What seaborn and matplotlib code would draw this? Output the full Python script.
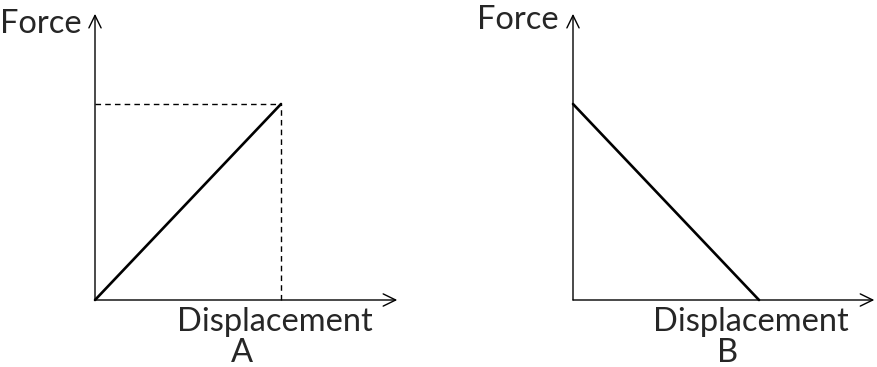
import matplotlib
matplotlib.use("Agg")
import matplotlib.pyplot as plt
import seaborn as sns
import pandas as pd

# ---- data (normalised units) ----
disp_A = [0.0, 1.0]
force_A = [0.0, 1.0]
disp_B = [0.0, 1.0]
force_B = [1.0, 0.0]
panel_labels = ["A", "B"]
x_label = "Displacement"
y_label = "Force"

sns.set_theme(style="white")
plt.rcParams['font.family'] = ['Lato', 'DejaVu Sans']

W, H = 877, 367
fig = plt.figure(figsize=(W / 100, H / 100), dpi=100)

# layout: pixel mapping per panel
SX, SY = 186.0, 196.0
XL = (-0.2, 1.8)
YL = (-0.3, 1.5)
ORIG_Y = 300


def make_axes(ox):
    left = ox + SX * XL[0]
    width = SX * (XL[1] - XL[0])
    bottom_px = ORIG_Y - SY * YL[0]
    height = SY * (YL[1] - YL[0])
    ax = fig.add_axes([left / W, (H - bottom_px) / H, width / W, height / H])
    ax.set_xlim(*XL)
    ax.set_ylim(*YL)
    ax.axis("off")
    return ax


def draw_axes_arrows(ax, xmax, ymax):
    style = dict(arrowstyle='->,head_length=0.45,head_width=0.22', lw=1.0,
                 color='black', mutation_scale=20, shrinkA=0, shrinkB=0)
    ax.annotate('', xy=(xmax, 0), xytext=(0, 0), arrowprops=style)
    ax.annotate('', xy=(0, ymax), xytext=(0, 0), arrowprops=style)


FS = 23.5

# ---- panel A ----
axA = make_axes(95)
draw_axes_arrows(axA, 1.625, 1.46)
sns.lineplot(x=disp_A, y=force_A, ax=axA, color='black', lw=1.9,
             sort=False, legend=False)
axA.plot([0, disp_A[-1]], [force_A[-1], force_A[-1]], color='black',
         lw=1.0, dashes=(4, 3))
axA.plot([disp_A[-1], disp_A[-1]], [0, force_A[-1]], color='black',
         lw=1.0, dashes=(4, 3))
axA.text(-0.07, 1.362, y_label, ha='right', va='baseline', fontsize=FS)
axA.text(0.968, -0.158, x_label, ha='center', va='baseline', fontsize=FS)
axA.text(0.79, -0.316, panel_labels[0], ha='center', va='baseline', fontsize=FS)

# ---- panel B ----
axB = make_axes(573)
draw_axes_arrows(axB, 1.62, 1.46)
sns.lineplot(x=disp_B, y=force_B, ax=axB, color='black', lw=1.9,
             sort=False, legend=False)
axB.text(-0.076, 1.383, y_label, ha='right', va='baseline', fontsize=FS)
axB.text(0.954, -0.158, x_label, ha='center', va='baseline', fontsize=FS)
axB.text(0.83, -0.316, panel_labels[1], ha='center', va='baseline', fontsize=FS)

fig.savefig("out.png", dpi=100, facecolor='white')
